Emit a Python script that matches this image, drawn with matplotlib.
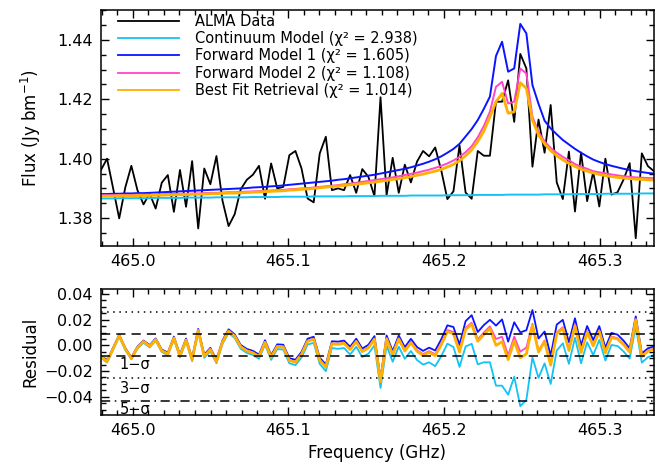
import numpy as np
import matplotlib
matplotlib.use("Agg")
import matplotlib.pyplot as plt
from matplotlib.ticker import MultipleLocator, FuncFormatter

# ALMA spectrum, channels of 3.906 MHz
f_start = 464.97956
chan_width = 0.003906

flux = [1.3962, 1.4000, 1.3900, 1.3799, 1.3903, 1.3976, 1.3894, 1.3846, 1.3883, 1.3832,
        1.3919, 1.3945, 1.3821, 1.3962, 1.3838, 1.3992, 1.3765, 1.3967, 1.3914, 1.4009,
        1.3858, 1.3773, 1.3813, 1.3897, 1.3929, 1.3946, 1.3976, 1.3865, 1.3984, 1.3900,
        1.3905, 1.4012, 1.4026, 1.3967, 1.3866, 1.3853, 1.4018, 1.4074, 1.3894, 1.3900,
        1.3894, 1.3945, 1.3885, 1.3965, 1.3939, 1.3874, 1.4207, 1.3877, 1.4003, 1.3885,
        1.3980, 1.3920, 1.3990, 1.4026, 1.4008, 1.4038, 1.3960, 1.3864, 1.3890, 1.4045,
        1.3886, 1.3865, 1.4026, 1.4010, 1.4010, 1.4192, 1.4192, 1.4264, 1.4124, 1.4353,
        1.4304, 1.3973, 1.4132, 1.4020, 1.4181, 1.3920, 1.3864, 1.4024, 1.3822, 1.4021,
        1.3857, 1.3956, 1.3839, 1.4000, 1.3879, 1.3887, 1.3930, 1.3985, 1.3732, 1.4018,
        1.3975, 1.3958]

continuum = [1.3866, 1.3866, 1.3866, 1.3867, 1.3867, 1.3867, 1.3867, 1.3867, 1.3867, 1.3868,
             1.3868, 1.3868, 1.3868, 1.3868, 1.3869, 1.3869, 1.3869, 1.3869, 1.3869, 1.3870,
             1.3870, 1.3870, 1.3870, 1.3870, 1.3870, 1.3871, 1.3871, 1.3871, 1.3871, 1.3871,
             1.3872, 1.3872, 1.3872, 1.3872, 1.3872, 1.3873, 1.3873, 1.3873, 1.3873, 1.3873,
             1.3873, 1.3874, 1.3874, 1.3874, 1.3874, 1.3874, 1.3875, 1.3875, 1.3875, 1.3875,
             1.3875, 1.3876, 1.3876, 1.3876, 1.3876, 1.3876, 1.3876, 1.3877, 1.3877, 1.3877,
             1.3877, 1.3877, 1.3878, 1.3878, 1.3878, 1.3878, 1.3878, 1.3879, 1.3879, 1.3879,
             1.3879, 1.3879, 1.3879, 1.3880, 1.3880, 1.3880, 1.3880, 1.3880, 1.3881, 1.3881,
             1.3881, 1.3881, 1.3881, 1.3882, 1.3882, 1.3882, 1.3882, 1.3882, 1.3882, 1.3883,
             1.3883, 1.3883]

model1 = [1.3881, 1.3881, 1.3882, 1.3882, 1.3883, 1.3883, 1.3884, 1.3884, 1.3885, 1.3886,
          1.3887, 1.3888, 1.3889, 1.3890, 1.3891, 1.3892, 1.3893, 1.3894, 1.3895, 1.3896,
          1.3897, 1.3898, 1.3899, 1.3900, 1.3901, 1.3903, 1.3904, 1.3905, 1.3907, 1.3908,
          1.3910, 1.3912, 1.3914, 1.3916, 1.3918, 1.3920, 1.3922, 1.3924, 1.3926, 1.3929,
          1.3931, 1.3934, 1.3937, 1.3940, 1.3943, 1.3946, 1.3950, 1.3954, 1.3958, 1.3962,
          1.3966, 1.3971, 1.3977, 1.3983, 1.3990, 1.3998, 1.4008, 1.4020, 1.4033, 1.4050,
          1.4075, 1.4100, 1.4130, 1.4168, 1.4209, 1.4346, 1.4394, 1.4293, 1.4304, 1.4454,
          1.4422, 1.4248, 1.4185, 1.4128, 1.4102, 1.4082, 1.4063, 1.4048, 1.4033, 1.4020,
          1.4008, 1.3997, 1.3989, 1.3982, 1.3976, 1.3971, 1.3966, 1.3962, 1.3958, 1.3955,
          1.3952, 1.3950]

model2 = [1.3877, 1.3877, 1.3877, 1.3878, 1.3878, 1.3878, 1.3879, 1.3879, 1.3879, 1.3880,
          1.3880, 1.3881, 1.3881, 1.3882, 1.3882, 1.3883, 1.3883, 1.3884, 1.3885, 1.3885,
          1.3886, 1.3887, 1.3887, 1.3888, 1.3889, 1.3890, 1.3891, 1.3892, 1.3893, 1.3894,
          1.3895, 1.3897, 1.3898, 1.3900, 1.3901, 1.3903, 1.3905, 1.3907, 1.3909, 1.3911,
          1.3914, 1.3916, 1.3919, 1.3922, 1.3925, 1.3928, 1.3931, 1.3934, 1.3937, 1.3941,
          1.3945, 1.3949, 1.3953, 1.3958, 1.3963, 1.3969, 1.3976, 1.3984, 1.3994, 1.4006,
          1.4022, 1.4042, 1.4072, 1.4110, 1.4158, 1.4242, 1.4259, 1.4186, 1.4192, 1.4304,
          1.4287, 1.4141, 1.4090, 1.4058, 1.4036, 1.4020, 1.4006, 1.3995, 1.3982, 1.3973,
          1.3966, 1.3958, 1.3954, 1.3951, 1.3947, 1.3944, 1.3941, 1.3939, 1.3937, 1.3936,
          1.3935, 1.3934]

best_fit = [1.3874, 1.3874, 1.3874, 1.3875, 1.3875, 1.3875, 1.3876, 1.3876, 1.3876, 1.3877,
            1.3877, 1.3878, 1.3878, 1.3879, 1.3879, 1.3880, 1.3880, 1.3881, 1.3882, 1.3882,
            1.3883, 1.3884, 1.3884, 1.3885, 1.3886, 1.3887, 1.3888, 1.3889, 1.3890, 1.3891,
            1.3892, 1.3894, 1.3895, 1.3897, 1.3898, 1.3900, 1.3902, 1.3904, 1.3906, 1.3908,
            1.3910, 1.3912, 1.3914, 1.3916, 1.3919, 1.3921, 1.3924, 1.3927, 1.3930, 1.3933,
            1.3936, 1.3940, 1.3944, 1.3948, 1.3953, 1.3958, 1.3964, 1.3972, 1.3981, 1.3993,
            1.4010, 1.4030, 1.4058, 1.4093, 1.4141, 1.4192, 1.4220, 1.4153, 1.4158, 1.4256,
            1.4237, 1.4130, 1.4080, 1.4050, 1.4027, 1.4010, 1.3996, 1.3984, 1.3974, 1.3965,
            1.3958, 1.3952, 1.3947, 1.3943, 1.3940, 1.3937, 1.3935, 1.3933, 1.3931, 1.3930,
            1.3929, 1.3928]

sigma = 0.0086
chi2 = {"cont": 2.938, "fm1": 1.605, "fm2": 1.108, "best": 1.014}

freq = f_start + chan_width * np.arange(len(flux))
flux = np.array(flux)

c_cont = "#14c3f5"
c_fm1 = "#0a14ff"
c_fm2 = "#ff45c8"
c_best = "#ffb000"

plt.rcParams["font.family"] = "DejaVu Sans"
plt.rcParams["mathtext.fontset"] = "dejavusans"

fig = plt.figure(figsize=(6.63, 4.68), dpi=100)
ax1 = fig.add_axes([0.1523, 0.4744, 0.8341, 0.5043])
ax2 = fig.add_axes([0.1523, 0.1132, 0.8341, 0.2692])

# top: spectrum and models
ax1.plot(freq, flux, color="black", lw=1.3, label="ALMA Data")
ax1.plot(freq, continuum, color=c_cont, lw=1.4,
         label="Continuum Model (\u03c7\u00b2 = %.3f)" % chi2["cont"])
ax1.plot(freq, model1, color=c_fm1, lw=1.4,
         label="Forward Model 1 (\u03c7\u00b2 = %.3f)" % chi2["fm1"])
ax1.plot(freq, model2, color=c_fm2, lw=1.4,
         label="Forward Model 2 (\u03c7\u00b2 = %.3f)" % chi2["fm2"])
ax1.plot(freq, best_fit, color=c_best, lw=2.0,
         label="Best Fit Retrieval (\u03c7\u00b2 = %.3f)" % chi2["best"])

ax1.set_xlim(freq[0], freq[-1])
ax1.set_ylim(1.3706, 1.4501)
ax1.set_ylabel(r"Flux (Jy bm$^{-1}$)", fontsize=12, labelpad=10)
ax1.yaxis.set_major_locator(MultipleLocator(0.02))
ax1.yaxis.set_minor_locator(MultipleLocator(0.005))
ax1.yaxis.set_major_formatter(FuncFormatter(lambda v, p: "%.2f" % v))

leg = ax1.legend(loc="upper left", bbox_to_anchor=(0.0235, 1.0), frameon=False,
                 fontsize=10.5, handlelength=4.2, handletextpad=1.1,
                 labelspacing=0.16, borderaxespad=0.0, borderpad=0.25)
for line in leg.get_lines():
    line.set_linewidth(1.3)

# bottom: residuals (model - data)
res_cont = np.array(continuum) - flux
res_fm1 = np.array(model1) - flux
res_fm2 = np.array(model2) - flux
res_best = np.array(best_fit) - flux

ax2.plot(freq, res_cont, color=c_cont, lw=1.3)
ax2.plot(freq, res_fm1, color=c_fm1, lw=1.3)
ax2.plot(freq, res_fm2, color=c_fm2, lw=1.3)
ax2.plot(freq, res_best, color=c_best, lw=2.0)

ax2.axhline(sigma, color="black", ls=(0, (6, 4)), lw=1.1)
ax2.axhline(-sigma, color="black", ls=(0, (6, 4)), lw=1.1)
ax2.axhline(3 * sigma, color="black", ls=(0, (1, 3)), lw=1.1)
ax2.axhline(-3 * sigma, color="black", ls=(0, (1, 3)), lw=1.1)
ax2.axhline(-5 * sigma, color="black", ls=(0, (6, 3, 1, 3)), lw=1.1)

ax2.text(464.9915, -0.0149, "1\u2212\u03c3", fontsize=10.5, va="center")
ax2.text(464.9915, -0.0333, "3\u2212\u03c3", fontsize=10.5, va="center")
ax2.text(464.9915, -0.0502, "5\u2212\u03c3", fontsize=10.5, va="center")

ax2.set_xlim(freq[0], freq[-1])
ax2.set_ylim(-0.0543, 0.0439)
ax2.set_xlabel("Frequency (GHz)", fontsize=12, labelpad=4)
ax2.set_ylabel("Residual", fontsize=12, labelpad=3)
ax2.yaxis.set_major_locator(MultipleLocator(0.02))
ax2.yaxis.set_minor_locator(MultipleLocator(0.005))
ax2.yaxis.set_major_formatter(FuncFormatter(lambda v, p: ("%.2f" % v).replace("-", "\u2212")))

for ax in (ax1, ax2):
    ax.xaxis.set_major_locator(MultipleLocator(0.1))
    ax.xaxis.set_minor_locator(MultipleLocator(0.01))
    ax.xaxis.set_major_formatter(FuncFormatter(lambda v, p: "%.1f" % v))
    ax.tick_params(which="both", direction="in", top=True, right=True, labelsize=11.5)
    ax.tick_params(which="major", length=6, width=1.0, pad=6)
    ax.tick_params(which="minor", length=3.5, width=1.0)
    for s in ax.spines.values():
        s.set_linewidth(1.1)

fig.savefig("out.png", dpi=100)
